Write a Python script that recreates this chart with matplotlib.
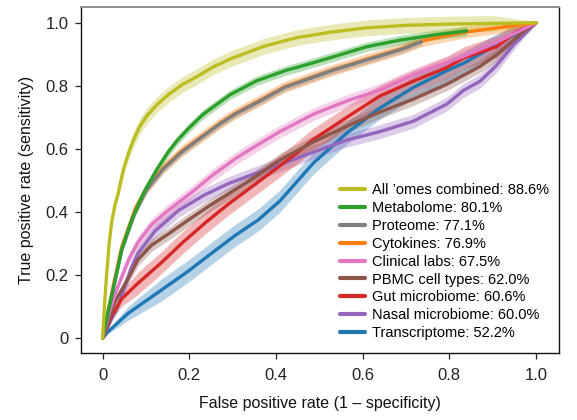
import numpy as np
import matplotlib
matplotlib.use("Agg")
import matplotlib.pyplot as plt

plt.rcParams['font.family'] = ['Liberation Sans', 'DejaVu Sans']

# ---- data ----
labels = ["All \u2019omes combined: 88.6%", "Metabolome: 80.1%", "Proteome: 77.1%",
          "Cytokines: 76.9%", "Clinical labs: 67.5%", "PBMC cell types: 62.0%",
          "Gut microbiome: 60.6%", "Nasal microbiome: 60.0%", "Transcriptome: 52.2%"]
colors = ["#bcbd22", "#2ca02c", "#7f7f7f", "#ff7f0e", "#e377c2", "#8c564b",
          "#d62728", "#9467bd", "#1f77b4"]

all_x = [0, 0.004, 0.009, 0.015, 0.021, 0.028, 0.036, 0.047, 0.059, 0.070, 0.085, 0.102,
         0.125, 0.155, 0.185, 0.217, 0.255, 0.294, 0.371, 0.448, 0.525, 0.609, 0.70,
         0.80, 0.90, 1.0]
all_y = [0, 0.10, 0.20, 0.30, 0.37, 0.42, 0.46, 0.53, 0.585, 0.625, 0.67, 0.705,
         0.74, 0.776, 0.805, 0.829, 0.86, 0.885, 0.925, 0.953, 0.970, 0.984, 0.992,
         0.996, 0.998, 1.0]

met_x = [0, 0.01, 0.024, 0.044, 0.067, 0.086, 0.098, 0.125, 0.151, 0.171, 0.198, 0.232,
         0.294, 0.355, 0.425, 0.455, 0.532, 0.609, 0.686, 0.763, 0.840]
met_y = [0, 0.07, 0.153, 0.28, 0.375, 0.435, 0.47, 0.535, 0.59, 0.625, 0.665, 0.71,
         0.772, 0.816, 0.85, 0.861, 0.892, 0.924, 0.945, 0.961, 0.974]

pro_x = [0, 0.01, 0.025, 0.044, 0.075, 0.101, 0.140, 0.182, 0.236, 0.271, 0.305, 0.367,
         0.42, 0.532, 0.609, 0.686, 0.736]
pro_y = [0, 0.06, 0.16, 0.28, 0.40, 0.47, 0.537, 0.59, 0.645, 0.68, 0.71, 0.755,
         0.795, 0.850, 0.882, 0.914, 0.940]

cyt_x = [0, 0.01, 0.025, 0.044, 0.075, 0.101, 0.140, 0.182, 0.236, 0.271, 0.305, 0.367,
         0.42, 0.532, 0.609, 0.686, 0.736, 0.79, 0.840, 0.917, 1.0]
cyt_y = [0, 0.07, 0.17, 0.29, 0.41, 0.475, 0.54, 0.593, 0.647, 0.682, 0.712, 0.757,
         0.797, 0.851, 0.884, 0.916, 0.942, 0.958, 0.971, 0.985, 1.0]

cli_x = [0, 0.015, 0.032, 0.06, 0.082, 0.113, 0.151, 0.205, 0.252, 0.305, 0.336, 0.409,
         0.486, 0.563, 0.640, 0.717, 0.755, 0.832, 0.909, 1.0]
cli_y = [0, 0.08, 0.153, 0.25, 0.305, 0.36, 0.405, 0.462, 0.515, 0.568, 0.595, 0.655,
         0.71, 0.752, 0.787, 0.835, 0.855, 0.893, 0.938, 1.0]

pbmc_x = [0, 0.015, 0.028, 0.059, 0.082, 0.113, 0.151, 0.198, 0.252, 0.328, 0.409, 0.486,
          0.563, 0.640, 0.717, 0.794, 0.871, 0.909, 0.971, 1.0]
pbmc_y = [0, 0.06, 0.115, 0.19, 0.25, 0.295, 0.33, 0.375, 0.425, 0.49, 0.565, 0.622,
          0.672, 0.717, 0.758, 0.805, 0.862, 0.898, 0.972, 1.0]

gut_x = [0, 0.02, 0.044, 0.082, 0.136, 0.182, 0.236, 0.290, 0.344, 0.398, 0.444, 0.486,
         0.563, 0.640, 0.717, 0.794, 0.832, 0.909, 0.955, 1.0]
gut_y = [0, 0.07, 0.125, 0.175, 0.24, 0.30, 0.365, 0.425, 0.48, 0.535, 0.583, 0.63,
         0.70, 0.768, 0.815, 0.858, 0.888, 0.924, 0.972, 1.0]

nas_x = [0, 0.02, 0.035, 0.05, 0.065, 0.082, 0.121, 0.175, 0.236, 0.290, 0.367, 0.409,
         0.486, 0.563, 0.640, 0.717, 0.794, 0.832, 0.871, 0.909, 0.948, 1.0]
nas_y = [0, 0.06, 0.10, 0.16, 0.22, 0.27, 0.34, 0.405, 0.455, 0.49, 0.53, 0.55,
         0.59, 0.628, 0.655, 0.688, 0.742, 0.785, 0.815, 0.865, 0.93, 1.0]

tra_x = [0, 0.012, 0.059, 0.136, 0.198, 0.252, 0.305, 0.359, 0.409, 0.486, 0.563, 0.640,
         0.717, 0.794, 0.832, 0.909, 0.94, 1.0]
tra_y = [0, 0.02, 0.079, 0.153, 0.213, 0.270, 0.325, 0.375, 0.435, 0.555, 0.65, 0.73,
         0.795, 0.848, 0.871, 0.93, 0.955, 1.0]

series_x = [all_x, met_x, pro_x, cyt_x, cli_x, pbmc_x, gut_x, nas_x, tra_x]
series_y = [all_y, met_y, pro_y, cyt_y, cli_y, pbmc_y, gut_y, nas_y, tra_y]
band_hw = [0.025, 0.015, 0.012, 0.018, 0.02, 0.02, 0.035, 0.022, 0.035]

xticks = [0, 0.2, 0.4, 0.6, 0.8, 1.0]
xticklabels = ["0", "0.2", "0.4", "0.6", "0.8", "1.0"]
yticks = [0, 0.2, 0.4, 0.6, 0.8, 1.0]
yticklabels = ["0", "0.2", "0.4", "0.6", "0.8", "1.0"]

# ---- figure ----
fig = plt.figure(figsize=(5.77, 4.2), dpi=100)
ax = fig.add_axes([81/577, 1-353/420, (559-81)/577, (353-6.7)/420])

handles = [None]*len(labels)
for i in reversed(range(len(labels))):
    x = np.array(series_x[i], dtype=float)
    y = np.array(series_y[i], dtype=float)
    taper = np.clip(np.minimum(x, 1 - x) * 12 + 0.15, 0, 1)
    taper = np.minimum(taper, np.clip(y * 8, 0, 1))
    hw = band_hw[i] * taper
    ax.fill_between(x, y - hw, y + hw, color=colors[i], alpha=0.33, linewidth=0)
    ln, = ax.plot(x, y, color=colors[i], lw=2.4, solid_capstyle='round',
                  solid_joinstyle='round', label=labels[i])
    handles[i] = ln

ax.set_xlim(-0.05, 1.053)
ax.set_ylim(-0.047, 1.051)
ax.set_xticks(xticks)
ax.set_xticklabels(xticklabels)
ax.set_yticks(yticks)
ax.set_yticklabels(yticklabels)
ax.tick_params(axis='both', labelsize=12, length=4, width=0.9, color='#222222',
               labelcolor='#222222', pad=5)
ax.tick_params(axis='x', pad=7)
for s in ['left', 'bottom', 'right']:
    ax.spines[s].set_color('#111111')
    ax.spines[s].set_linewidth(1.0)
ax.spines['top'].set_color('#888888')
ax.spines['top'].set_linewidth(1.3)

ax.set_xlabel("False positive rate (1 \u2013 specificity)", fontsize=11.5, labelpad=9, color='#111111')
ax.set_ylabel("True positive rate (sensitivity)", fontsize=11.5, labelpad=8, color='#111111')

leg = ax.legend(handles=handles, loc='lower right', bbox_to_anchor=(1.0, 0.007),
                frameon=False, fontsize=10.5, handlelength=1.7, handletextpad=0.5,
                labelspacing=0.27, borderaxespad=0.3)
for lh in leg.get_lines():
    lh.set_linewidth(3)

fig.savefig("out.png", dpi=100)
